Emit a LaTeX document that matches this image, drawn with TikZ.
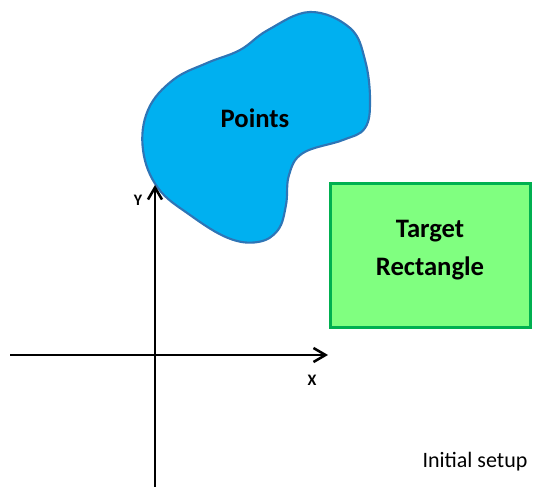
\documentclass[tikz,border=0pt]{standalone}
\usepackage{fontspec}
\setmainfont{Carlito}
\usepackage{xcolor}
\usetikzlibrary{positioning, arrows.meta}
\definecolor{blobfill}{HTML}{00B0F0}
\definecolor{blobline}{HTML}{2E75B6}
\definecolor{rectfill}{HTML}{80FF80}
\definecolor{rectline}{HTML}{00B050}

\begin{document}
\begin{tikzpicture}[x=0.75pt, y=-0.75pt,
    axis/.style={line width=1.9pt, -{Straight Barb[length=9pt, width=10.5pt]}},
    axislabel/.style={font=\bfseries\fontsize{12}{14}\selectfont}]
    \useasboundingbox (0,0) rectangle (543,498);

    % point cloud
    \draw[fill=blobfill, draw=blobline, line width=1.6pt]
      plot[smooth cycle, tension=0.65] coordinates {
        (310,12) (350,28) (365,60) (370,100) (365,128) (343,140) (303,153)
        (289,175) (286,205) (278,230) (258,242) (228,238) (190,215)
        (158,188) (143,150) (148,110) (173,80) (207,63) (240,50) (268,30)};
    \node[font=\bfseries\fontsize{20}{24}\selectfont] (points) at (255,118) {Points};

    % target rectangle
    \node[fill=rectfill, draw=rectline, line width=2.25pt,
          minimum width=150pt, minimum height=108pt] (target) at (430,256) {};
    \node[align=center, font=\bfseries\fontsize{20}{29}\selectfont] (targetlabel) at (430,250) {Target\\Rectangle};

    % axes
    \coordinate (xstart) at (10,355);
    \coordinate (xend) at (328,355);
    \coordinate (ystart) at (155,487);
    \coordinate (yend) at (155,185);
    \draw[axis] (xstart) -- (xend);
    \draw[axis] (ystart) -- (yend);
    \node[axislabel] (xlabel) at (312,380) {X};
    \node[axislabel] (ylabel) at (138,200) {Y};

    \node[font=\fontsize{16.5}{20}\selectfont] (caption) at (475,462) {Initial setup};
  \end{tikzpicture}
\end{document}
